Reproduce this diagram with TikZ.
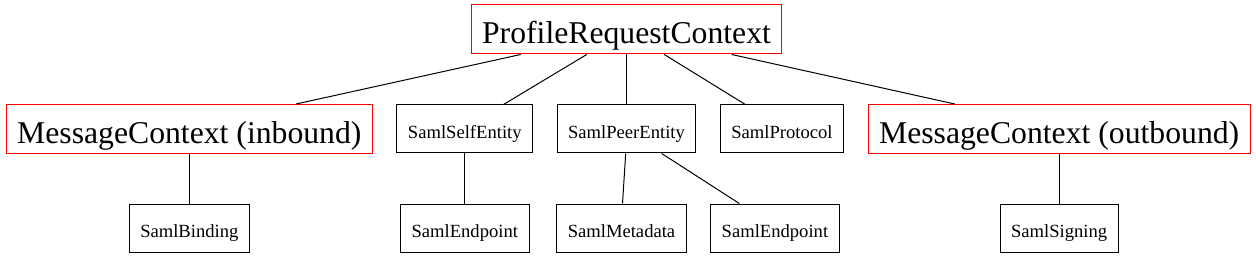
\documentclass[tikz,border=0pt]{standalone}
\usepackage{fontspec}
\setmainfont{Liberation Serif}
\usetikzlibrary{positioning}

\begin{document}
\begin{tikzpicture}[
  x=1pt, y=-1pt,
  node distance=50pt and 23.5pt,
  ctx/.style={
    rectangle,
    draw=red,
    line width=1pt,
    inner xsep=11pt,
    inner ysep=0pt,
    text height=30pt,
    text depth=1pt,
    minimum height=49pt,
    font=\fontsize{31.7}{38}\selectfont
  },
  item/.style={
    rectangle,
    draw=black,
    line width=1pt,
    inner xsep=11pt,
    inner ysep=0pt,
    text height=19pt,
    text depth=0.4pt,
    minimum height=48pt,
    font=\fontsize{18.6}{22}\selectfont
  },
  link/.style={line width=1pt, draw=black}
]
\useasboundingbox (0,0) rectangle (1256,259);

\node[ctx] (profile) at (626.5,29.5) {ProfileRequestContext};

\node[item, below=of profile] (peer) {SamlPeerEntity};
\node[item, left=of peer] (self) {SamlSelfEntity};
\node[ctx, left=of self] (inbound) {MessageContext (inbound)};
\node[item, right=of peer] (protocol) {SamlProtocol};
\node[ctx, right=of protocol] (outbound) {MessageContext (outbound)};

\node[item, below=of inbound] (binding) {SamlBinding};
\node[item, below=of self] (selfendpoint) {SamlEndpoint};
\node[item, below=of peer, xshift=-5pt] (metadata) {SamlMetadata};
\node[item, right=of metadata] (peerendpoint) {SamlEndpoint};
\node[item, below=of outbound] (signing) {SamlSigning};

\draw[link] ([xshift=-105.8pt]profile.south) -- ([xshift=106.7pt]inbound.north);
\draw[link] ([xshift=-39.8pt]profile.south) -- ([xshift=38.7pt]self.north);
\draw[link] (profile) -- (peer);
\draw[link] ([xshift=37.8pt]profile.south) -- ([xshift=-36.7pt]protocol.north);
\draw[link] ([xshift=105.2pt]profile.south) -- ([xshift=-104.5pt]outbound.north);
\draw[link] (inbound) -- (binding);
\draw[link] (self) -- (selfendpoint);
\draw[link] ([xshift=-0.8pt]peer.south) -- ([xshift=1pt]metadata.north);
\draw[link] ([xshift=35.2pt]peer.south) -- ([xshift=-35.6pt]peerendpoint.north);
\draw[link] (outbound) -- (signing);

\end{tikzpicture}
\end{document}
